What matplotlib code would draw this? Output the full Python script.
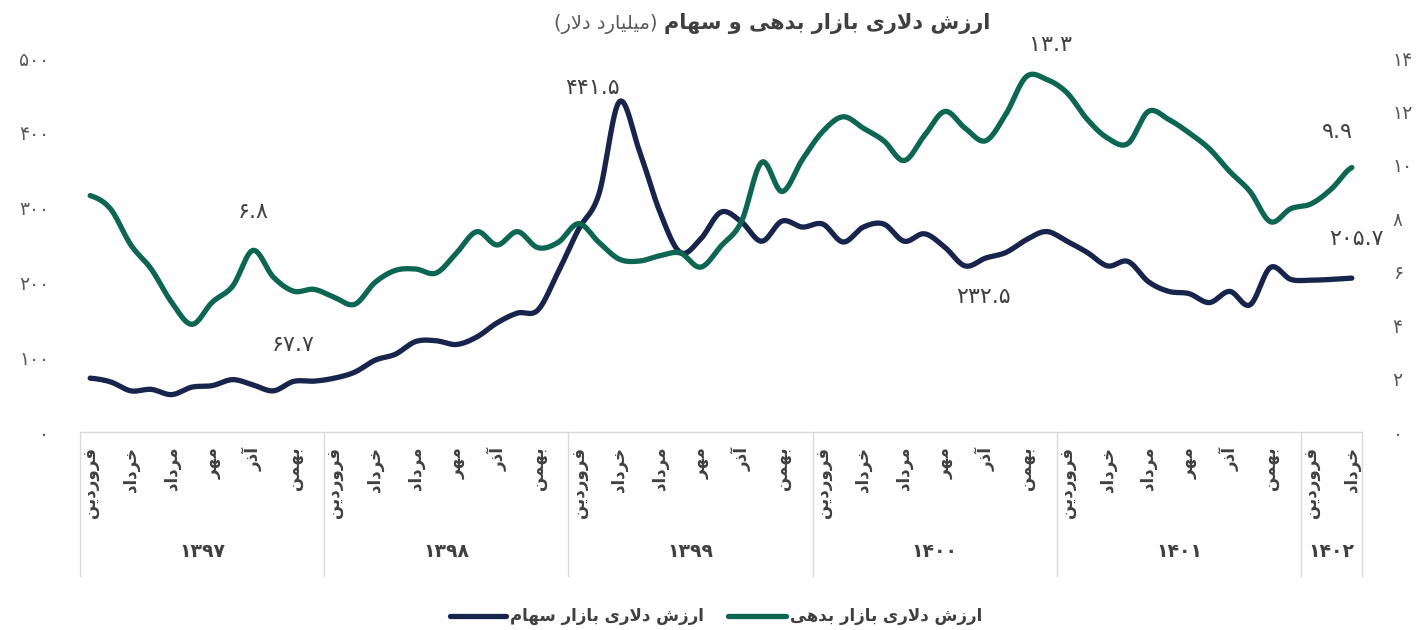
import numpy as np
import matplotlib
matplotlib.use('Agg')
import matplotlib.pyplot as plt
from matplotlib import transforms
from matplotlib.lines import Line2D

plt.rcParams['font.family'] = ['DejaVu Sans']

# ---- data (billion USD) ----
years = ['1397', '1398', '1399', '1400', '1401', '1402']
months_per_year = [12, 12, 12, 12, 12, 3]
month_names = ['فروردین', 'اردیبهشت', 'خرداد', 'تیر', 'مرداد', 'شهریور',
               'مهر', 'آبان', 'آذر', 'دی', 'بهمن', 'اسفند']

stock = [72, 67, 55, 57, 50, 60, 62, 70, 63, 55, 67.7, 68,
         72, 80, 96, 104, 121, 122, 117, 127, 146, 159, 163, 214,
         271, 318, 441.5, 375, 294, 240, 258, 294, 281, 255, 282, 274,
         278, 254, 274, 278, 255, 265, 247, 222, 232.5, 240, 257, 268,
         255, 240, 222, 228, 201, 188, 185, 173, 188, 170, 220, 204,
         203, 204, 205.7]

debt = [8.85, 8.35, 7.0, 6.1, 4.86, 4.03, 4.86, 5.46, 6.8, 5.8, 5.27, 5.34,
        5.04, 4.78, 5.6, 6.05, 6.1, 5.95, 6.7, 7.5, 7.0, 7.5, 6.9, 7.1,
        7.8, 7.1, 6.47, 6.4, 6.6, 6.7, 6.17, 6.96, 7.87, 10.1, 9.0, 10.2,
        11.25, 11.8, 11.37, 10.9, 10.16, 11.1, 12.0, 11.37, 10.9, 11.9, 13.3, 13.2,
        12.7, 11.7, 11.0, 10.8, 12.0, 11.7, 11.2, 10.6, 9.75, 9.0, 7.87, 8.36,
        8.54, 9.1, 9.9]

stock_labels = [10, 26, 44, 62]
debt_labels = [8, 46, 62]

title_bold = 'ارزش دلاری بازار بدهی و سهام'
title_unit = '(میلیارد دلار)'
legend_stock = 'ارزش دلاری بازار سهام'
legend_debt = 'ارزش دلاری بازار بدهی'

NAVY = '#17244b'
GREEN = '#0d6651'
GREY = '#404040'

# ---- minimal persian shaping (matplotlib has no complex text layout) ----
FORMS = {
    'ا': ('\uFE8D', '\uFE8E', None, None),
    'آ': ('\uFE81', '\uFE82', None, None),
    'ب': ('\uFE8F', '\uFE90', '\uFE91', '\uFE92'),
    'ت': ('\uFE95', '\uFE96', '\uFE97', '\uFE98'),
    'خ': ('\uFEA5', '\uFEA6', '\uFEA7', '\uFEA8'),
    'د': ('\uFEA9', '\uFEAA', None, None),
    'ذ': ('\uFEAB', '\uFEAC', None, None),
    'ر': ('\uFEAD', '\uFEAE', None, None),
    'ز': ('\uFEAF', '\uFEB0', None, None),
    'س': ('\uFEB1', '\uFEB2', '\uFEB3', '\uFEB4'),
    'ش': ('\uFEB5', '\uFEB6', '\uFEB7', '\uFEB8'),
    'ف': ('\uFED1', '\uFED2', '\uFED3', '\uFED4'),
    'ل': ('\uFEDD', '\uFEDE', '\uFEDF', '\uFEE0'),
    'م': ('\uFEE1', '\uFEE2', '\uFEE3', '\uFEE4'),
    'ن': ('\uFEE5', '\uFEE6', '\uFEE7', '\uFEE8'),
    'ه': ('\uFEE9', '\uFEEA', '\uFEEB', '\uFEEC'),
    'و': ('\uFEED', '\uFEEE', None, None),
    'ی': ('\uFBFC', '\uFBFD', '\uFBFE', '\uFBFF'),
}
LAM_ALEF = {'ا': ('\uFEFB', '\uFEFC'), 'آ': ('\uFEF5', '\uFEF6')}


def shape(text):
    out = []
    i = 0
    while i < len(text):
        c = text[i]
        if c not in FORMS:
            out.append(c)
            i += 1
            continue
        prev = text[i - 1] if i > 0 else None
        join_prev = prev in FORMS and FORMS[prev][2] is not None
        nxt = text[i + 1] if i + 1 < len(text) else None
        if c == 'ل' and nxt in LAM_ALEF:
            out.append(LAM_ALEF[nxt][1] if join_prev else LAM_ALEF[nxt][0])
            i += 2
            continue
        iso, fin, ini, med = FORMS[c]
        join_next = ini is not None and nxt in FORMS
        if join_prev and join_next:
            out.append(med)
        elif join_prev:
            out.append(fin)
        elif join_next:
            out.append(ini)
        else:
            out.append(iso)
        i += 1
    vis = ''.join(reversed(out))
    return vis.translate(str.maketrans('()', ')('))


def fa(s):
    return str(s).translate(str.maketrans('0123456789', '۰۱۲۳۴۵۶۷۸۹'))


def smooth(y, n=12):
    # catmull-rom through the points, like a smoothed excel line
    y = np.asarray(y, float)
    p = np.concatenate([[y[0]], y, [y[-1]]])
    t = np.linspace(0, 1, n, endpoint=False)
    xs, ys = [], []
    for i in range(len(y) - 1):
        p0, p1, p2, p3 = p[i:i + 4]
        yy = 0.5 * (2 * p1 + (p2 - p0) * t + (2 * p0 - 5 * p1 + 4 * p2 - p3) * t ** 2
                    + (3 * p1 - p0 - 3 * p2 + p3) * t ** 3)
        xs.append(i + t)
        ys.append(yy)
    xs.append([len(y) - 1])
    ys.append([y[-1]])
    return np.concatenate(xs), np.concatenate(ys)


W, H = 1417, 630
fig = plt.figure(figsize=(W / 100, H / 100), dpi=100)
fig.patch.set_facecolor('white')
ax = fig.add_axes([80 / W, 1 - 432 / H, 1282 / W, 374 / H])
ax2 = ax.twinx()

n = len(stock)
x = np.arange(n)

sx, sy = smooth(stock)
ax.plot(sx, sy, color=NAVY, lw=3.8, solid_capstyle='round', solid_joinstyle='round')
dx, dy = smooth(debt)
ax2.plot(dx, dy, color=GREEN, lw=3.8, solid_capstyle='round', solid_joinstyle='round')

ax.set_xlim(-0.5, n - 0.5)
ax.set_ylim(0, 500)
ax2.set_ylim(0, 14)
ax.set_yticks(range(0, 501, 100))
ax.set_yticklabels([fa(v) for v in range(0, 501, 100)])
ax2.set_yticks(range(0, 15, 2))
ax2.set_yticklabels([fa(v) for v in range(0, 15, 2)])
ax.set_xticks([])
for a in (ax, ax2):
    for s in a.spines.values():
        s.set_visible(False)
ax.tick_params(axis='y', length=0, pad=22, labelsize=13.5, labelcolor='#595959')
ax2.tick_params(axis='y', length=0, pad=22, labelsize=13.5, labelcolor='#595959')

# category axis (months + years)
trans = transforms.blended_transform_factory(ax.transData, ax.transAxes)
ax.plot([-0.5, n - 0.5], [0, 0], transform=trans, color='#d9d9d9', lw=1, clip_on=False)
start = 0
bounds = [-0.5]
for yr, cnt in zip(years, months_per_year):
    for m in range(0, cnt, 2):
        ax.text(start + m, -0.04, shape(month_names[m]), transform=trans, rotation=90,
                ha='center', va='top', fontsize=12, fontweight='bold', color=GREY)
    ax.text(start + (cnt - 1) / 2, -0.32, fa(yr), transform=trans, ha='center', va='center',
            fontsize=13.5, fontweight='bold', color=GREY)
    start += cnt
    bounds.append(start - 0.5)
for b in bounds:
    ax.plot([b, b], [0, -0.385], transform=trans, color='#d9d9d9', lw=1, clip_on=False)

# data labels
stock_off = {10: (0, 36), 26: (-27, 14), 44: (-2, -39), 62: (5, 39)}
debt_off = {8: (0, 38), 46: (24, 32), 62: (-14, 36)}
for i in stock_labels:
    ax.annotate(fa(stock[i]), (i, stock[i]), xytext=stock_off[i], textcoords='offset pixels',
                ha='center', va='center', fontsize=16, color=GREY, annotation_clip=False)
for i in debt_labels:
    ax2.annotate(fa(debt[i]), (i, debt[i]), xytext=debt_off[i], textcoords='offset pixels',
                 ha='center', va='center', fontsize=16, color=GREY, annotation_clip=False)

# title
tb = fig.text(990 / W, 1 - 24 / H, shape(title_bold), ha='right', va='center',
              fontsize=15, fontweight='bold', color=GREY)
fig.canvas.draw()
ax.annotate(shape(title_unit), xy=(0, 0.5), xycoords=tb, xytext=(-6, 0),
            textcoords='offset pixels', ha='right', va='center', fontsize=14, color='#595959')

# legend
ly = 1 - 616 / H
fig.add_artist(Line2D([450 / W, 506 / W], [ly, ly], color=NAVY, lw=3.8, solid_capstyle='round'))
fig.text(510 / W, ly, shape(legend_stock), ha='left', va='center', fontsize=12,
         fontweight='bold', color=GREY)
fig.add_artist(Line2D([728 / W, 786 / W], [ly, ly], color=GREEN, lw=3.8, solid_capstyle='round'))
fig.text(790 / W, ly, shape(legend_debt), ha='left', va='center', fontsize=12,
         fontweight='bold', color=GREY)

fig.savefig('out.png', dpi=100, facecolor='white')
